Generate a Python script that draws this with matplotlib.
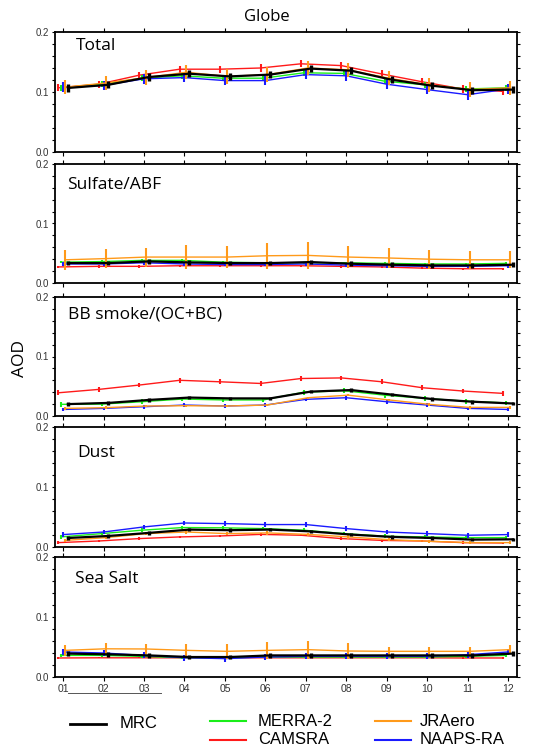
import numpy as np
import matplotlib
matplotlib.use("Agg")
import matplotlib.pyplot as plt
from matplotlib.lines import Line2D

months = np.arange(1, 13)
month_labels = ["01", "02", "03", "04", "05", "06", "07", "08", "09", "10", "11", "12"]
series_names = ["CAMSRA", "MERRA-2", "NAAPS-RA", "JRAero", "MRC"]
colors = ["#ff1a1a", "#1aee1a", "#1a1aff", "#ff9a1a", "black"]
offsets = [-0.12, -0.05, 0.0, 0.05, 0.12]

panel_titles = ["Total", "Sulfate/ABF", "BB smoke/(OC+BC)", "Dust", "Sea Salt"]

# Total
total_red = [0.107, 0.113, 0.128, 0.138, 0.138, 0.140, 0.147, 0.144, 0.130, 0.117, 0.105, 0.101]
total_green = [0.107, 0.113, 0.123, 0.127, 0.123, 0.123, 0.132, 0.131, 0.118, 0.112, 0.105, 0.107]
total_blue = [0.108, 0.111, 0.122, 0.124, 0.119, 0.119, 0.129, 0.127, 0.113, 0.104, 0.0955, 0.105]
total_orange = [0.108, 0.115, 0.124, 0.133, 0.126, 0.129, 0.140, 0.137, 0.123, 0.112, 0.104, 0.107]
total_black = [0.1067, 0.112, 0.125, 0.1305, 0.126, 0.129, 0.139, 0.1355, 0.1205, 0.1105, 0.103, 0.104]
total_err = [0.006, 0.005, 0.008, 0.012, 0.006]

# Sulfate / ABF
sulf_red = [0.027, 0.028, 0.028, 0.029, 0.029, 0.029, 0.029, 0.028, 0.027, 0.025, 0.024, 0.024]
sulf_green = [0.035, 0.036, 0.038, 0.038, 0.035, 0.034, 0.034, 0.034, 0.033, 0.032, 0.032, 0.033]
sulf_blue = [0.032, 0.032, 0.034, 0.032, 0.031, 0.031, 0.032, 0.030, 0.029, 0.028, 0.028, 0.029]
sulf_orange = [0.039, 0.041, 0.0436, 0.0436, 0.0436, 0.0458, 0.0464, 0.0436, 0.042, 0.040, 0.039, 0.039]
sulf_black = [0.0335, 0.0335, 0.0363, 0.0346, 0.0335, 0.0335, 0.0352, 0.0324, 0.0307, 0.0296, 0.0296, 0.0307]
sulf_err = [0.002, 0.002, 0.003, 0.016, 0.004]
sulf_orange_err = [0.017, 0.016, 0.016, 0.020, 0.018, 0.022, 0.023, 0.018, 0.016, 0.016, 0.015, 0.014]

# BB smoke
bb_red = [0.039, 0.0447, 0.052, 0.060, 0.0575, 0.0547, 0.063, 0.064, 0.0575, 0.0475, 0.042, 0.038]
bb_green = [0.0196, 0.020, 0.024, 0.0285, 0.027, 0.027, 0.040, 0.0425, 0.035, 0.0296, 0.025, 0.022]
bb_blue = [0.011, 0.0128, 0.0156, 0.0184, 0.0168, 0.0184, 0.028, 0.0307, 0.024, 0.0184, 0.0128, 0.011]
bb_orange = [0.0128, 0.014, 0.0168, 0.0173, 0.0168, 0.0184, 0.0307, 0.035, 0.027, 0.0196, 0.0145, 0.0145]
bb_black = [0.020, 0.022, 0.027, 0.031, 0.0296, 0.0296, 0.041, 0.0436, 0.036, 0.0285, 0.024, 0.021]
bb_err = [0.004, 0.004, 0.003, 0.002, 0.003]

# Dust
dust_red = [0.0073, 0.010, 0.014, 0.0168, 0.0184, 0.021, 0.0196, 0.014, 0.011, 0.010, 0.0073, 0.0067]
dust_green = [0.0168, 0.0223, 0.028, 0.0324, 0.032, 0.0307, 0.028, 0.0223, 0.018, 0.0168, 0.0156, 0.0156]
dust_blue = [0.0207, 0.025, 0.0335, 0.040, 0.039, 0.0374, 0.0374, 0.0307, 0.025, 0.0223, 0.0196, 0.0207]
dust_orange = [0.011, 0.0156, 0.0223, 0.025, 0.0223, 0.0235, 0.021, 0.0168, 0.0123, 0.0095, 0.0073, 0.0073]
dust_black = [0.015, 0.0184, 0.0235, 0.029, 0.028, 0.029, 0.026, 0.0207, 0.0168, 0.015, 0.0123, 0.0128]
dust_err = [0.002, 0.003, 0.004, 0.003, 0.003]

# Sea salt
salt_red = [0.0317, 0.032, 0.032, 0.032, 0.032, 0.032, 0.032, 0.032, 0.032, 0.032, 0.0317, 0.0317]
salt_green = [0.036, 0.036, 0.0344, 0.0322, 0.0317, 0.0333, 0.0333, 0.0333, 0.0333, 0.0333, 0.0344, 0.036]
salt_blue = [0.0417, 0.040, 0.036, 0.0322, 0.0306, 0.0333, 0.0344, 0.0344, 0.0344, 0.0344, 0.0372, 0.0417]
salt_orange = [0.0444, 0.047, 0.0467, 0.0444, 0.0428, 0.0444, 0.0456, 0.0433, 0.0428, 0.0428, 0.0428, 0.0456]
salt_black = [0.039, 0.0378, 0.036, 0.0333, 0.0333, 0.036, 0.036, 0.036, 0.036, 0.036, 0.036, 0.039]
salt_err = [0.001, 0.002, 0.005, 0.008, 0.004]
salt_orange_err = [0.009, 0.009, 0.009, 0.011, 0.012, 0.014, 0.015, 0.013, 0.008, 0.008, 0.008, 0.008]

panels = [
    ([total_red, total_green, total_blue, total_orange, total_black], total_err, None),
    ([sulf_red, sulf_green, sulf_blue, sulf_orange, sulf_black], sulf_err, sulf_orange_err),
    ([bb_red, bb_green, bb_blue, bb_orange, bb_black], bb_err, None),
    ([dust_red, dust_green, dust_blue, dust_orange, dust_black], dust_err, None),
    ([salt_red, salt_green, salt_blue, salt_orange, salt_black], salt_err, salt_orange_err),
]

W, H = 538, 750
fig = plt.figure(figsize=(W / 100, H / 100), dpi=100)

tops = [32, 164, 297, 427, 557]
bottoms = [152, 283, 416, 547, 677]
left_px, right_px = 55, 517
label_x = [76, 67, 68, 77, 75]
label_y = [46, 185, 315, 453, 579]

for i, (vals, errs, orange_err) in enumerate(panels):
    ax = fig.add_axes([left_px / W, 1 - bottoms[i] / H, (right_px - left_px) / W, (bottoms[i] - tops[i]) / H])
    for j in range(5):
        e = errs[j]
        if j == 3 and orange_err is not None:
            e = orange_err
        lw = 1.6 if j == 4 else 1.0
        elw = 2.4 if j == 4 else 1.5
        ax.errorbar(months + offsets[j], vals[j], yerr=e, color=colors[j], lw=lw,
                    elinewidth=elw, capsize=0, zorder=3 + j)
    ax.set_xlim(0.8, 12.22)
    ax.set_ylim(0, 0.2)
    ax.set_yticks([0.0, 0.1, 0.2])
    ax.set_yticklabels(["0.0", "0.1", "0.2"], family="Liberation Sans")
    ax.set_yticks(np.arange(0, 0.201, 0.02), minor=True)
    ax.set_xticks(months)
    ax.tick_params(axis="y", which="both", direction="out", length=2.5, width=0.8,
                   labelsize=7, labelcolor="#333333", right=True, pad=2)
    ax.tick_params(axis="x", direction="out", length=3, width=0.8, top=True,
                   labelsize=7.5, labelcolor="#333333", pad=2)
    if i < 4:
        ax.set_xticklabels([])
    else:
        ax.set_xticklabels(month_labels, family="Liberation Sans")
    for s in ax.spines.values():
        s.set_linewidth(1.3)
    ax.text((label_x[i] - left_px) / (right_px - left_px), 1 - (label_y[i] - tops[i]) / (bottoms[i] - tops[i]),
            panel_titles[i], transform=ax.transAxes, fontsize=12.5, family="Open Sans",
            ha="left", va="center")

fig.text(267 / W, 1 - 17 / H, "Globe", fontsize=12, family="Open Sans", ha="center", va="center")
fig.text(20 / W, 1 - 358 / H, "AOD", fontsize=12.5, family="Open Sans", rotation=90,
         ha="center", va="center")

# stray line under the month labels
fig.add_artist(Line2D([68 / W, 161 / W], [1 - 693 / H, 1 - 693 / H], color="#555555", lw=0.7))

# legend
legend_items = [
    ("MRC", "black", 70, 724, 120),
    ("MERRA-2", "#1aee1a", 210, 721, 258),
    ("CAMSRA", "#ff1a1a", 210, 740, 258),
    ("JRAero", "#ff9a1a", 375, 721, 420),
    ("NAAPS-RA", "#1a1aff", 375, 740, 420),
]
for name, c, x0, y0, tx in legend_items:
    fig.add_artist(Line2D([x0 / W, (x0 + 36) / W], [1 - y0 / H, 1 - y0 / H], color=c,
                          lw=2.0 if c == "black" else 1.5))
    fig.text(tx / W, 1 - y0 / H, name, fontsize=12, family="Liberation Sans",
             ha="left", va="center")

fig.savefig("out.png", dpi=100)
